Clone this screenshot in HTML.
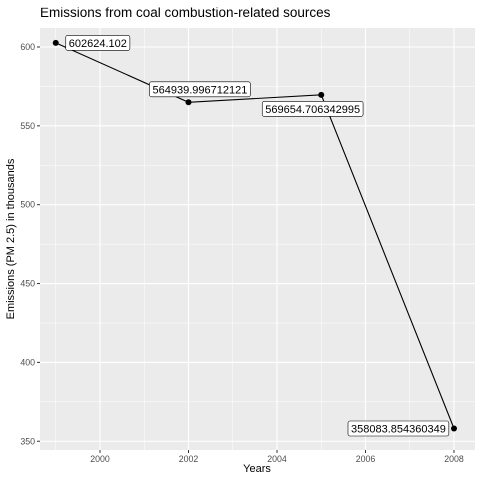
<!DOCTYPE html>
<html><head><meta charset="utf-8"><style>body{margin:0;background:#fff}svg{display:block;font-family:"Liberation Sans",sans-serif}</style></head>
<body>
<svg id="chart" width="480" height="480" xmlns="http://www.w3.org/2000/svg">
<text x="40" y="17" font-size="13.5" fill="#000">Emissions from coal combustion-related sources</text>
<text x="257" y="472" font-size="11" text-anchor="middle">Years</text>
<text transform="translate(14,239) rotate(-90)" font-size="11" text-anchor="middle">Emissions (PM 2.5) in thousands</text>
<g id="g"></g>
</svg>
<script>
const years=[1999,2002,2005,2008];
const emissions=[602624.102,564939.996712121,569654.706342995,358083.854360349];
const labels=["602624.102","564939.996712121","569654.706342995","358083.854360349"];
const xTicks=[2000,2002,2004,2006,2008];
const yTicks=[350,400,450,500,550,600];
const L=40,R=475,T=28,B=450;
const x=v=>100+(v-2000)*44.25;
const y=v=>47+(600-v)*1.577;
const ns="http://www.w3.org/2000/svg",g=document.getElementById('g');
function mk(t,a){const e=document.createElementNS(ns,t);for(const k in a)e.setAttribute(k,a[k]);g.appendChild(e);return e;}
let e=mk('rect',{x:L,y:T,width:R-L,height:B-T,fill:'#EBEBEB'});


for(let i=0;i<xTicks.length;i++){const v=xTicks[i];
 e=mk('line',{x1:x(v-1),x2:x(v-1),y1:T,y2:B,stroke:'#fff','stroke-width':0.5});
 
}
e=mk('line',{x1:x(2009),x2:x(2009),y1:T,y2:B,stroke:'#fff','stroke-width':0.5});

for(const v of yTicks){
 e=mk('line',{x1:L,x2:R,y1:y(v+25),y2:y(v+25),stroke:'#fff','stroke-width':0.5});
 
}
for(const v of xTicks){
 e=mk('line',{x1:x(v),x2:x(v),y1:T,y2:B,stroke:'#fff','stroke-width':1.1});
 
 e=mk('line',{x1:x(v),x2:x(v),y1:B,y2:B+3,stroke:'#333'});
 
 e=mk('text',{x:x(v),y:B+12,'font-size':8.8,fill:'#4D4D4D','text-anchor':'middle'});e.textContent=v;
 
}
for(const v of yTicks){
 e=mk('line',{x1:L,x2:R,y1:y(v),y2:y(v),stroke:'#fff','stroke-width':1.1});
 
 e=mk('line',{x1:L-3,x2:L,y1:y(v),y2:y(v),stroke:'#333'});
 
 e=mk('text',{x:L-5,y:y(v)+3,'font-size':8.8,fill:'#4D4D4D','text-anchor':'end'});e.textContent=v;
 
}
e=mk('polyline',{points:years.map((v,i)=>x(v)+','+y(emissions[i]/1000)).join(' '),fill:'none',stroke:'#000','stroke-width':1.1});

const offs=[[10,0,'start'],[-39,-13,'start'],[-59,14,'start'],[-106,0,'start']];
years.forEach((v,i)=>{
 const px=x(v),py=y(emissions[i]/1000);
 e=mk('circle',{cx:px,cy:py,r:3,fill:'#000'});
 
 const tx=px+offs[i][0],ty=py+offs[i][1];
 const t=mk('text',{x:tx+3,y:ty+4,'font-size':11,fill:'#000'});t.textContent=labels[i];
 
 const w=t.getComputedTextLength();
 const r=mk('rect',{x:tx,y:ty-7.5,width:w+6,height:15,rx:2,fill:'#fff',stroke:'#000','stroke-width':0.6});
 
 g.appendChild(t);
});
</script>
</body></html>
